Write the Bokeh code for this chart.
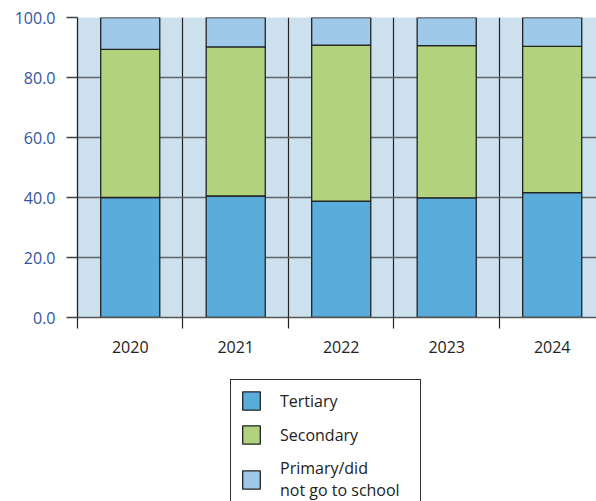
from bokeh.plotting import figure
from bokeh.layouts import column
from bokeh.models import ColumnDataSource, FixedTicker, Legend, LegendItem, NumeralTickFormatter
from bokeh.embed import file_html
from bokeh.resources import INLINE

years = ["2020", "2021", "2022", "2023", "2024"]
tertiary = [40.0, 40.5, 38.8, 39.9, 41.6]
secondary = [49.4, 49.7, 52.0, 50.7, 48.8]
primary = [10.6, 9.8, 9.2, 9.4, 9.6]
series_names = ["Tertiary", "Secondary", "Primary/did\nnot go to school"]
series_keys = ["tertiary", "secondary", "primary"]
colors = ["#5aacdb", "#b2d27e", "#9ec9e8"]
y_ticks = [0, 20, 40, 60, 80, 100]

xs = [i + 0.5 for i in range(len(years))]
bounds = list(range(len(years)))

source = ColumnDataSource(dict(x=xs, years=years, tertiary=tertiary,
                               secondary=secondary, primary=primary))

FONT = "Open Sans"
EDGE = "#222222"

p = figure(width=596, height=370, output_backend="svg", toolbar_location=None,
           x_range=(0, 4.92), y_range=(0, 100),
           min_border_left=77, min_border_right=0, min_border_top=17,
           min_border_bottom=53)
p.background_fill_color = "#cde0ee"
p.border_fill_color = "white"
p.outline_line_color = None

# grids
p.ygrid.ticker = FixedTicker(ticks=y_ticks)
p.ygrid.grid_line_color = "#5f6468"
p.ygrid.grid_line_width = 1.6
p.xgrid.ticker = FixedTicker(ticks=bounds[1:])
p.xgrid.grid_line_color = EDGE
p.xgrid.grid_line_width = 1.2

renderers = p.vbar_stack(series_keys, x="x", width=0.56, source=source,
                         fill_color=colors, line_color=EDGE, line_width=1.3)

# y axis
p.yaxis.ticker = FixedTicker(ticks=y_ticks)
p.yaxis.formatter = NumeralTickFormatter(format="0.0")
p.yaxis.axis_line_color = EDGE
p.yaxis.axis_line_width = 1.3
p.yaxis.major_tick_out = 11
p.yaxis.major_tick_in = 0
p.yaxis.major_tick_line_color = "#444444"
p.yaxis.major_tick_line_width = 1.5
p.yaxis.minor_tick_line_color = None
p.yaxis.major_label_text_color = "#34549f"
p.yaxis.major_label_text_font = FONT
p.yaxis.major_label_text_font_size = "16px"
p.yaxis.major_label_standoff = 11

# x axis
p.xaxis.ticker = FixedTicker(ticks=xs, minor_ticks=bounds)
p.xaxis.major_label_overrides = {x: y for x, y in zip(xs, years)}
p.xaxis.major_tick_line_color = None
p.xaxis.major_tick_out = 0
p.xaxis.major_tick_in = 0
p.xaxis.minor_tick_out = 11
p.xaxis.minor_tick_in = 0
p.xaxis.minor_tick_line_color = EDGE
p.xaxis.minor_tick_line_width = 1.2
p.xaxis.axis_line_color = "#555555"
p.xaxis.axis_line_width = 1.5
p.xaxis.major_label_text_font = FONT
p.xaxis.major_label_text_font_size = "16px"
p.xaxis.major_label_text_color = EDGE
p.xaxis.major_label_standoff = 12

# legend panel (second figure directly below the chart)
p2 = figure(width=596, height=131, output_backend="svg", toolbar_location=None,
            x_range=(0, 1), y_range=(0, 1),
            min_border_left=77, min_border_right=0, min_border_top=0,
            min_border_bottom=0)
p2.axis.visible = False
p2.grid.visible = False
p2.outline_line_color = None
p2.background_fill_color = "white"
p2.border_fill_color = "white"
# legend swatches: kept outside the visible ranges so only the legend shows them
swatches = [p2.vbar(x=[10], top=[-2], bottom=[-3], width=0.5, fill_color=c,
                    line_color=EDGE, line_width=1.3)
            for c in colors]

legend = Legend(items=[LegendItem(label=n, renderers=[r]) for n, r in zip(series_names, swatches)],
                location=(153, -10))
legend.label_text_font = FONT
legend.label_text_font_size = "16px"
legend.label_text_color = EDGE
legend.glyph_width = 22
legend.glyph_height = 23
legend.label_standoff = 18
legend.label_width = 131
legend.spacing = 11
legend.padding = 9
legend.margin = 0
legend.border_line_color = "#333333"
legend.border_line_alpha = 1.0
legend.border_line_width = 1.2
legend.background_fill_color = "white"
legend.background_fill_alpha = 1
p2.add_layout(legend, "center")

layout = column(p, p2, spacing=0)
open("out.html", "w").write(file_html(layout, INLINE))
